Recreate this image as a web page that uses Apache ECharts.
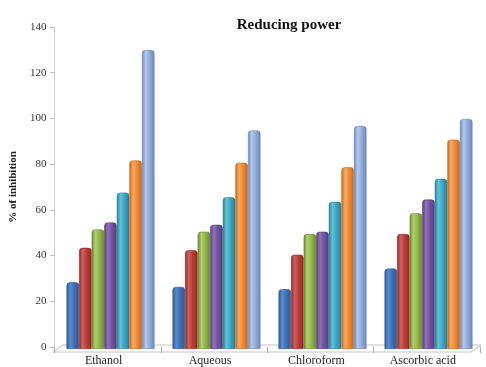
<!DOCTYPE html>
<html>
<head>
<meta charset="utf-8">
<script src="https://cdn.jsdelivr.net/npm/echarts@6/dist/echarts.min.js"></script>
<style>
  html, body { margin: 0; padding: 0; background: #fff; }
  #chart { width: 486px; height: 367px; }
</style>
</head>
<body>
<div id="chart"></div>
<script>
// Extract types (x-axis groups)
const categories = ['Ethanol', 'Aqueous', 'Chloroform', 'Ascorbic acid'];

// Seven concentration series, % of inhibition per extract
const s1 = [29, 27, 26, 35];
const s2 = [44, 43, 41, 50];
const s3 = [52, 51, 50, 59];
const s4 = [55, 54, 51, 65];
const s5 = [68, 66, 64, 74];
const s6 = [82, 81, 79, 91];
const s7 = [130, 95, 97, 100];

const yTicks = [0, 20, 40, 60, 80, 100, 120, 140];

const seriesData = [s1, s2, s3, s4, s5, s6, s7];
// [edge, face, highlight] shades for each series
const palettes = [
  ['#2d5a92', '#3f70b4', '#5a8ad0'],
  ['#8e2b2a', '#bb3b38', '#d0605c'],
  ['#6c8a2e', '#93b64c', '#aece6e'],
  ['#56407a', '#7352a0', '#9073ba'],
  ['#2a7f95', '#3aa6c2', '#62c2da'],
  ['#c4691c', '#f08a35', '#f7aa66'],
  ['#6a86b8', '#92addb', '#b3c8ea']
];

function barStyle(p) {
  return {
    color: new echarts.graphic.LinearGradient(0, 0, 1, 0, [
      { offset: 0, color: p[0] },
      { offset: 0.3, color: p[2] },
      { offset: 0.6, color: p[1] },
      { offset: 1, color: p[0] }
    ]),
    borderColor: p[0],
    borderWidth: 0.6,
    borderRadius: [3, 3, 0, 0]
  };
}

const serif = 'Liberation Serif';
const chart = echarts.init(document.getElementById('chart'), null, { renderer: 'canvas' });

chart.setOption({
  animation: false,
  backgroundColor: '#ffffff',
  title: {
    text: 'Reducing power',
    left: 284,
    top: 13,
    textAlign: 'center',
    textStyle: { fontFamily: serif, fontWeight: 'bold', fontSize: 15, color: '#111' }
  },
  // thin 3-D style floor under the columns
  graphic: [
    {
      type: 'polygon',
      z: 0,
      shape: { points: [[53, 352], [471, 352], [481, 345], [63, 345]] },
      style: { fill: 'rgba(0,0,0,0)', stroke: '#c4c4c4', lineWidth: 1 }
    }
  ],
  // grid 0 carries the visible axes; grid 1 holds the bars, set back a little
  // to the right like the depth offset of a 3-D column chart
  grid: [
    { left: 53, right: 6, top: 27, bottom: 18 },
    { left: 57.5, right: 4.5, top: 27, bottom: 18 }
  ],
  xAxis: [
    {
      type: 'category',
      gridIndex: 0,
      data: categories,
      axisLine: { show: false },
      axisTick: { show: true, length: 6, lineStyle: { color: '#aaa' } },
      axisLabel: {
        fontFamily: serif,
        fontSize: 12,
        color: '#222',
        margin: 8,
        padding: [0, 8, 0, 0]
      }
    },
    {
      type: 'category',
      gridIndex: 1,
      data: categories,
      show: false
    }
  ],
  yAxis: [
    {
      type: 'value',
      gridIndex: 0,
      min: 0,
      max: 140,
      interval: 20,
      name: '% of inhibition',
      nameLocation: 'middle',
      nameGap: 32,
      nameRotate: 90,
      nameTextStyle: { fontFamily: serif, fontWeight: 'bold', fontSize: 11, color: '#222' },
      axisLine: { show: true, lineStyle: { color: '#d0d0d0', width: 1 } },
      axisTick: { show: true, length: 4, lineStyle: { color: '#bbb' } },
      splitLine: { show: false },
      axisLabel: {
        fontFamily: serif,
        fontSize: 11,
        color: '#333',
        margin: 8,
        formatter: v => (yTicks.includes(v) ? String(v) : '')
      }
    },
    {
      type: 'value',
      gridIndex: 1,
      min: 0,
      max: 140,
      interval: 20,
      show: false,
      splitLine: { show: false }
    }
  ],
  series: seriesData.map((d, i) => ({
    type: 'bar',
    xAxisIndex: 1,
    yAxisIndex: 1,
    data: d,
    barGap: '0%',
    barCategoryGap: '17%',
    itemStyle: barStyle(palettes[i])
  }))
});
</script>
</body>
</html>
